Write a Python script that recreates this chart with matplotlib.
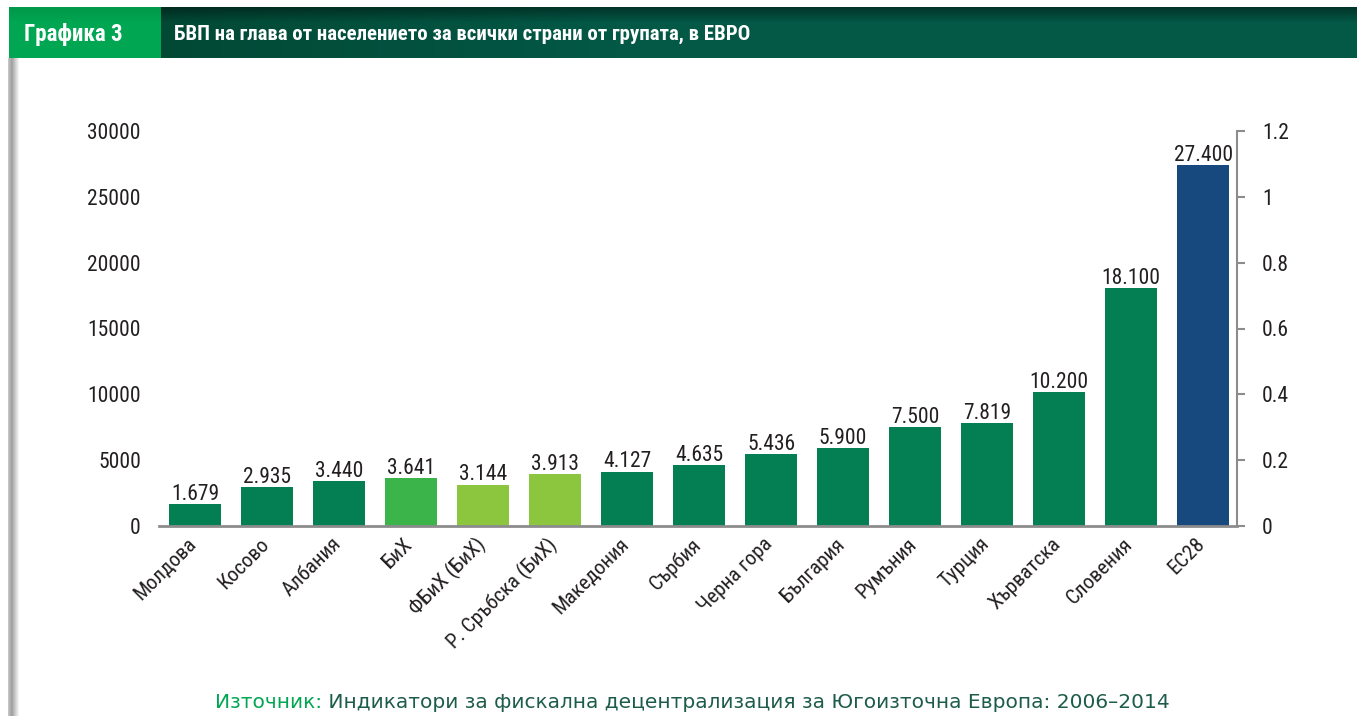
import numpy as np
import matplotlib
matplotlib.use("Agg")
import matplotlib.pyplot as plt
from matplotlib import font_manager as fm
from matplotlib.colors import to_rgb
from matplotlib.transforms import ScaledTranslation

# data
countries = ["Молдова", "Косово", "Албания", "БиХ", "ФБиХ (БиХ)", "Р. Сръбска (БиХ)",
             "Македония", "Сърбия", "Черна гора", "България", "Румъния", "Турция",
             "Хърватска", "Словения", "ЕС28"]
gdp = [1679, 2935, 3440, 3641, 3144, 3913, 4127, 4635, 5436, 5900, 7500, 7819,
       10200, 18100, 27400]
bar_colors = ["#047e53"] * 3 + ["#3bb54a", "#8cc63f", "#8cc63f"] + ["#047e53"] * 8 + ["#17497f"]
left_ticks = [0, 5000, 10000, 15000, 20000, 25000, 30000]
right_ticks = [0, 0.2, 0.4, 0.6, 0.8, 1, 1.2]
right_labels = ["0", "0.2", "0.4", "0.6", "0.8", "1", "1.2"]

title_tag = "Графика 3"
title = "БВП на глава от населението за всички страни от групата, в ЕВРО"
source_head = "Източник:"
source_text = "Индикатори за фискална децентрализация за Югоизточна Европа: 2006–2014"

W, H = 1357, 716


def narrow_font(bold=False):
    # look for any installed narrow / condensed sans face
    found = []
    for f in fm.fontManager.ttflist:
        name = f.name.lower()
        fname = f.fname.lower()
        is_narrow = ("narrow" in name or "condensed" in name or "narrow" in fname
                     or "condensed" in fname or f.stretch in ("condensed", "semi-condensed"))
        if not is_narrow or f.style != "normal" or "mono" in name or "serif" in name:
            continue
        w = f.weight if isinstance(f.weight, int) else (700 if "bold" in str(f.weight) else 400)
        if bold != (w >= 600):
            continue
        found.append(f)
    order = ["liberation", "roboto", "open", "noto", "dejavu"]
    found.sort(key=lambda f: next((i for i, o in enumerate(order) if o in f.name.lower()), 9))
    if found:
        return fm.FontProperties(fname=found[0].fname)
    return None


REG = narrow_font(False)
BOLD = narrow_font(True) or REG
HAVE_NARROW = REG is not None
if REG is None:
    REG = fm.FontProperties(family="DejaVu Sans")
    BOLD = fm.FontProperties(family="DejaVu Sans", weight="bold")
k = 1.0 if HAVE_NARROW else 0.82


def fp(base, size):
    p = base.copy()
    p.set_size(size * k)
    return p


def fx(px):
    return px / W


def fy(py):
    return 1 - py / H


def fmt(v):
    return f"{v:,}".replace(",", ".")


fig = plt.figure(figsize=(W / 100, H / 100), dpi=100)

# header band: dark green with a shadow along its top edge
bw, bh = W - 9, 51
xs = np.linspace(0, 1, bw)[None, :, None]
ys = np.linspace(0, 1, bh)[:, None, None]
c_left, c_right = np.array(to_rgb("#01442f")), np.array(to_rgb("#035846"))
img = c_left + (c_right - c_left) * np.clip(xs / 0.45, 0, 1)
img = img * (1 - 0.4 * np.clip(1 - ys / 0.3, 0, 1))
tag_w = 161 - 9
g_top, g_bot = np.array(to_rgb("#00984a")), np.array(to_rgb("#00a651"))
img[:, :tag_w] = g_top + (g_bot - g_top) * np.clip(ys / 0.3, 0, 1)
band = fig.add_axes([fx(9), fy(58), bw / W, bh / H])
band.imshow(img, aspect="auto", extent=[0, 1, 0, 1], interpolation="bilinear")
band.axis("off")
fig.text(fx(24), fy(34), title_tag, color="white", fontproperties=fp(BOLD, 16.5),
         va="center", ha="left")
fig.text(fx(174), fy(34), title, color="white", fontproperties=fp(BOLD, 15),
         va="center", ha="left")

# gray stripe on the left
sw = 12
sx = np.linspace(0, 1, sw)
s_cols = np.interp(sx, [0, 0.3, 0.65, 1], [0.77, 0.62, 0.82, 1.0])
stripe = fig.add_axes([fx(8), 0, sw / W, fy(58)])
stripe.imshow(np.repeat(s_cols[None, :, None], 3, axis=2), aspect="auto",
              extent=[0, 1, 0, 1], interpolation="bilinear")
stripe.axis("off")

# main chart
ax = fig.add_axes([fx(159), fy(526), (1237 - 159) / W, (526 - 131) / H])
x = np.arange(len(countries))
ax.bar(x, gdp, width=0.73, color=bar_colors, zorder=2)
ax.set_xlim(-0.5, 14.47)
ax.set_ylim(0, 30000)
for s in ["left", "top", "right"]:
    ax.spines[s].set_visible(False)
ax.spines["bottom"].set_color("#8c8c8c")
ax.spines["bottom"].set_linewidth(2)
ax.spines["bottom"].set_zorder(3)
ax.set_yticks(left_ticks, [str(t) for t in left_ticks])
ax.tick_params(axis="y", length=0, pad=13, labelcolor="#231f20")
ax.set_xticks(x, countries, rotation=45, ha="right", rotation_mode="anchor")
ax.tick_params(axis="x", length=0, pad=6, labelcolor="#231f20")
for lab in ax.get_yticklabels():
    lab.set_fontproperties(fp(REG, 15.5))
shift = ScaledTranslation(-8 / 100, 0, fig.dpi_scale_trans)
for lab in ax.get_xticklabels():
    lab.set_fontproperties(fp(REG, 15))
    lab.set_transform(lab.get_transform() + shift)

for i, v in enumerate(gdp):
    ax.annotate(fmt(v), (i, v), xytext=(0, 3), textcoords="offset points",
                ha="center", va="baseline", color="#231f20", fontproperties=fp(REG, 15.5))

ax2 = ax.twinx()
ax2.set_ylim(0, 1.2)
ax2.set_yticks(right_ticks, right_labels)
for s in ["left", "top", "bottom"]:
    ax2.spines[s].set_visible(False)
ax2.spines["right"].set_color("#8c8c8c")
ax2.spines["right"].set_linewidth(1.5)
ax2.tick_params(axis="y", length=6, width=1.5, color="#8c8c8c", pad=12,
                labelcolor="#231f20")
for lab in ax2.get_yticklabels():
    lab.set_fontproperties(fp(REG, 15.5))

# source line
t1 = fig.text(fx(215), fy(703), source_head, color="#00a651", fontsize=14.5,
              va="center", ha="left")
ax.annotate(" " + source_text, xy=(1, 0.5), xycoords=t1, ha="left", va="center",
            color="#1d5c4a", fontsize=14.5, annotation_clip=False)

fig.savefig("out.png", dpi=100)
